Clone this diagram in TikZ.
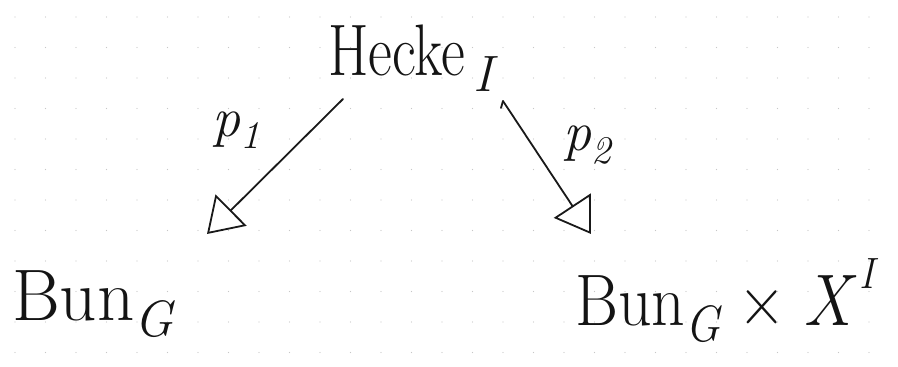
\documentclass[tikz,border=0pt]{standalone}
\usepackage{graphicx}
\usetikzlibrary{arrows.meta}

% lowered and raised indices built from the text font
\newcommand{\lowidx}[1]{\raisebox{-0.22em}{\scalebox{0.7}{\itshape #1}}}
\newcommand{\highidx}[1]{\kern0.12em\raisebox{0.5em}{\scalebox{0.6}{\itshape #1}}}

\tikzset{
  ink/.style={draw=black!90, line width=1.8pt, line cap=round, line join=round},
  mapto/.style={ink, -{Triangle[open, length=34pt, width=44pt, line width=1.8pt]}},
  bigtext/.style={inner sep=0pt, text=black!92, font=\fontsize{73}{80}\selectfont},
  labeltext/.style={inner sep=0pt, text=black!92, font=\fontsize{56}{62}\selectfont},
  griddot/.style={fill=black!22}
}

\begin{document}
\begin{tikzpicture}[x=1pt, y=-1pt]
  % paper and its dot grid
  \fill[white] (0,0) rectangle (898,367);
  \useasboundingbox (0,0) rectangle (898,367);
  \foreach \i in {0,...,29}{
    \foreach \j in {0,...,11}{
      \fill[griddot] (15+30.5*\i, 17+30.5*\j) circle (0.7pt);
    }
  }

  % objects
  \node[bigtext, anchor=base west] (hecke) at (328,75)
    {\scalebox{0.8}[1]{Hecke}\kern0.12em\lowidx{I}};
  \node[bigtext, anchor=base west] (bunl) at (12,320) {Bun\lowidx{G}};
  \node[bigtext, anchor=base west] (bunr) at (575,325)
    {\scalebox{0.9}[1]{Bun\lowidx{G}\;×\;{\itshape X}\highidx{I}}};

  % projection labels
  \node[labeltext] (lp1) at (236,130) {{\itshape p}\lowidx{1}};
  \node[labeltext] (lp2) at (587,145) {{\itshape p}\lowidx{2}};

  % projections
  \coordinate (p1s) at (343,99);
  \coordinate (p1e) at (207,234);
  \coordinate (p2h) at (501,108);
  \coordinate (p2s) at (503,101);
  \coordinate (p2e) at (591,234);
  \draw[mapto] (p1s) -- (p1e);
  \draw[ink] (p2h) -- (p2s);
  \draw[mapto] (p2s) -- (p2e);
\end{tikzpicture}
\end{document}
